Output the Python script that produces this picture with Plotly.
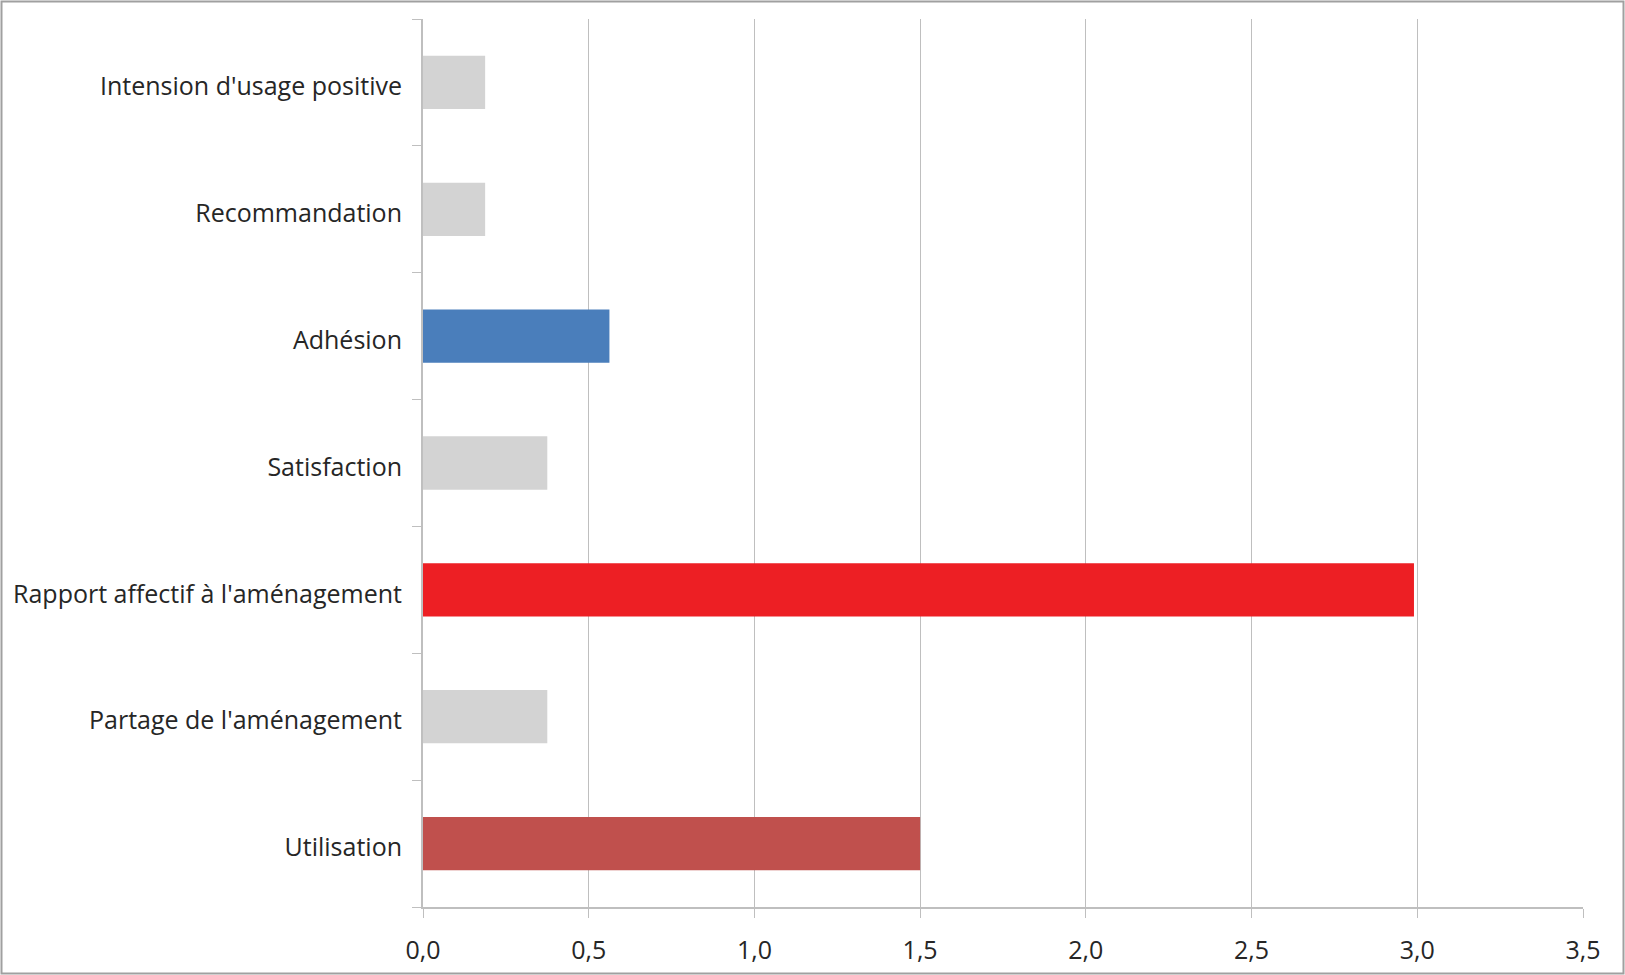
import plotly.graph_objects as go

categories = ["Utilisation", "Partage de l'aménagement", "Rapport affectif à l'aménagement",
              "Satisfaction", "Adhésion", "Recommandation", "Intension d'usage positive"]
values = [1.5, 0.375, 2.99, 0.375, 0.5625, 0.1875, 0.1875]
colors = ["#C0504D", "#D3D3D3", "#ED1F24", "#D3D3D3", "#4A7EBB", "#D3D3D3", "#D3D3D3"]
x_ticks = [0, 0.5, 1.0, 1.5, 2.0, 2.5, 3.0, 3.5]

W, H = 1625, 975
L, R, T, B = 423, 42, 19, 68

fig = go.Figure(go.Bar(
    y=categories, x=values, orientation="h",
    marker=dict(color=colors, line=dict(width=0)),
))

fig.update_layout(
    width=W, height=H, autosize=False,
    margin=dict(l=L, r=R, t=T, b=B),
    plot_bgcolor="white", paper_bgcolor="white",
    separators=", ",
    bargap=0.58,
    showlegend=False,
    font=dict(family="Open Sans, Noto Sans, sans-serif", color="#262626", size=25),
)
fig.update_xaxes(
    range=[0, 3.5], tickvals=x_ticks, tickformat=".1f",
    showgrid=True, gridcolor="#BFBFBF", gridwidth=1,
    showline=True, linecolor="#BFBFBF", linewidth=2,
    ticks="outside", ticklen=9, tickcolor="#BFBFBF", tickwidth=1,
    zeroline=False, ticklabelstandoff=11, automargin=False,
    tickfont=dict(size=25),
)
fig.update_yaxes(
    showgrid=False, showline=True, linecolor="#BFBFBF", linewidth=2,
    ticks="outside", ticklen=9, tickcolor="#BFBFBF", tickwidth=1,
    tickson="boundaries", ticklabelstandoff=14, ticklabelshift=4,
    automargin=False,
    tickfont=dict(size=25),
)

# outer chart border
pw = W - L - R
ph = H - T - B
def px_to_paper_x(p):
    return (p - L) / pw
def px_to_paper_y(p):
    return 1 - (p - T) / ph
fig.add_shape(type="rect", xref="paper", yref="paper",
              x0=px_to_paper_x(1.5), x1=px_to_paper_x(W - 1.5),
              y0=px_to_paper_y(H - 1.5), y1=px_to_paper_y(1.5),
              line=dict(color="#A0A0A0", width=2), layer="below")

fig.write_html("out.html",
               config={"responsive": False, "displayModeBar": False},
               post_script="document.body.style.margin='0px';")
